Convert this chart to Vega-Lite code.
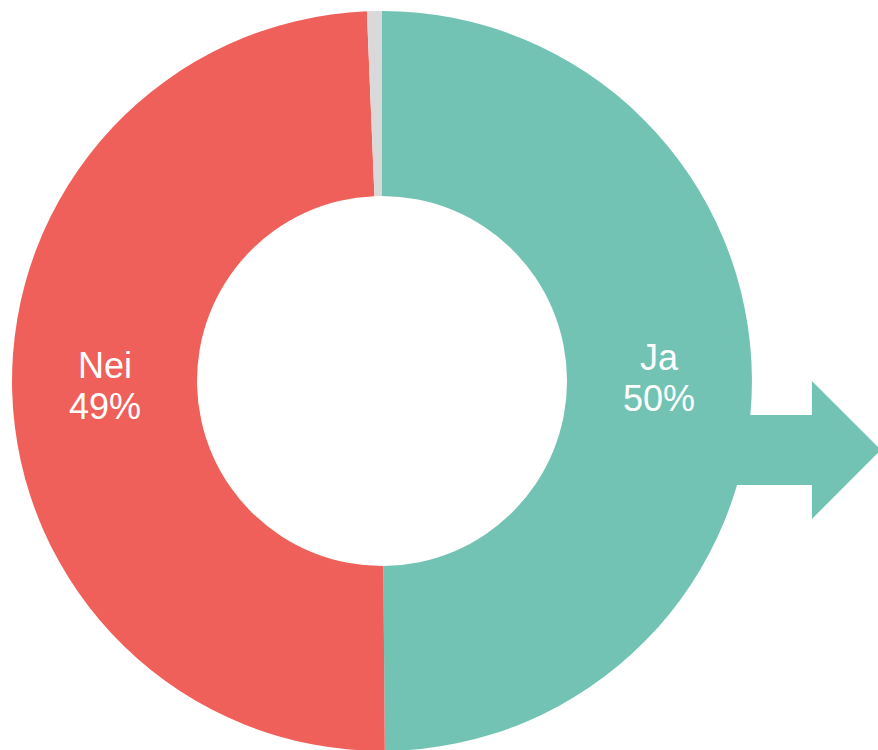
{
  "$schema": "https://vega.github.io/schema/vega-lite/v6.json",
  "width": 764,
  "height": 762,
  "autosize": {"type": "none"},
  "padding": {"left": 0, "top": 0, "right": 114, "bottom": 0},
  "background": "white",
  "config": {"view": {"stroke": null}},
  "data": {
    "values": [
      {"svar": "Ja", "andel": 49.88, "etikett": "50%"},
      {"svar": "Nei", "andel": 49.47, "etikett": "49%"},
      {"svar": "Vet ikke", "andel": 0.65, "etikett": ""}
    ]
  },
  "layer": [
    {
      "data": {"values": [{"pil": "Ja"}]},
      "mark": {
        "type": "point",
        "shape": "M -1 -0.35 L 0.12 -0.35 L 0.12 -0.69 L 0.81 0 L 0.12 0.69 L 0.12 0.35 L -1 0.35 Z",
        "size": 40000,
        "filled": true,
        "opacity": 1,
        "color": "#72C3B4",
        "strokeWidth": 0
      },
      "encoding": {
        "x": {"datum": 1.094, "type": "quantitative", "scale": {"domain": [-1, 1], "nice": false, "zero": false}, "axis": null},
        "y": {"datum": -0.181, "type": "quantitative", "scale": {"domain": [-1, 1], "nice": false, "zero": false}, "axis": null}
      }
    },
    {
      "mark": {"type": "arc", "outerRadius": 370, "innerRadius": 185},
      "encoding": {
        "theta": {"field": "andel", "type": "quantitative", "stack": true},
        "color": {
          "field": "svar",
          "type": "nominal",
          "scale": {"domain": ["Ja", "Nei", "Vet ikke"], "range": ["#72C3B4", "#F0605A", "#D9D9D9"]},
          "legend": null
        },
        "order": {"field": "svar", "sort": "ascending"}
      }
    },
    {
      "mark": {"type": "text", "radius": 277, "dy": -21, "fontSize": 36, "font": "Liberation Sans", "color": "white"},
      "encoding": {
        "theta": {"field": "andel", "type": "quantitative", "stack": true},
        "detail": {"field": "svar", "type": "nominal"},
        "order": {"field": "svar", "sort": "ascending"},
        "text": {"field": "svar", "type": "nominal", "condition": {"test": "datum.svar === 'Vet ikke'", "value": ""}}
      }
    },
    {
      "mark": {"type": "text", "radius": 277, "dy": 20, "fontSize": 36, "font": "Liberation Sans", "color": "white"},
      "encoding": {
        "theta": {"field": "andel", "type": "quantitative", "stack": true},
        "detail": {"field": "svar", "type": "nominal"},
        "order": {"field": "svar", "sort": "ascending"},
        "text": {"field": "etikett", "type": "nominal"}
      }
    }
  ]
}
